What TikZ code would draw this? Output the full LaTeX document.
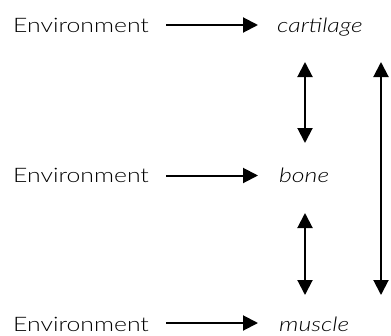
\documentclass[tikz,border=0pt]{standalone}
\usepackage{fontspec}
\IfFontExistsTF{Lato Light}{\setmainfont{Lato Light}[ItalicFont={Lato Light Italic}]}{\setmainfont{Lato}}
\usetikzlibrary{arrows.meta}
\newcommand{\wide}[1]{\scalebox{1.24}[1]{#1}}
\begin{document}
\begin{tikzpicture}[x=1pt,y=-1pt,
  lbl/.style={anchor=base west,inner sep=0pt,font=\fontsize{20}{24}\selectfont},
  ilbl/.style={lbl,font=\fontsize{20}{24}\selectfont\itshape},
  tip/.tip={Triangle[length=15pt,width=15pt]},
  arr/.style={line width=2pt,-tip},
  dbl/.style={line width=2pt,tip-tip}]
\useasboundingbox (0,0) rectangle (391,335);
\node[lbl] (env1) at (13,32) {\wide{Environment}};
\node[lbl] (env2) at (13,182) {\wide{Environment}};
\node[lbl] (env3) at (13,331) {\wide{Environment}};
\node[ilbl] (cart) at (277,32) {\wide{cartilage}};
\node[ilbl] (bone) at (279,182) {\wide{bone}};
\node[ilbl] (musc) at (279,331) {\wide{muscle}};
\coordinate (h0) at (166,0);
\coordinate (h1) at (258,0);
\coordinate (v1) at (305,0);
\coordinate (v2) at (381,0);
\coordinate (t1) at (0,62);
\coordinate (t2) at (0,143);
\coordinate (t3) at (0,213);
\coordinate (t4) at (0,295);
\draw[arr] ([yshift=7pt]env1.base -| h0) -- ([yshift=7pt]cart.base -| h1);
\draw[arr] ([yshift=6.5pt]env2.base -| h0) -- ([yshift=6.5pt]bone.base -| h1);
\draw[arr] ([yshift=8pt]env3.base -| h0) -- ([yshift=8pt]musc.base -| h1);
\draw[dbl] (v1 |- t1) -- (v1 |- t2);
\draw[dbl] (v1 |- t3) -- (v1 |- t4);
\draw[dbl] (v2 |- t1) -- (v2 |- t4);
\end{tikzpicture}
\end{document}
